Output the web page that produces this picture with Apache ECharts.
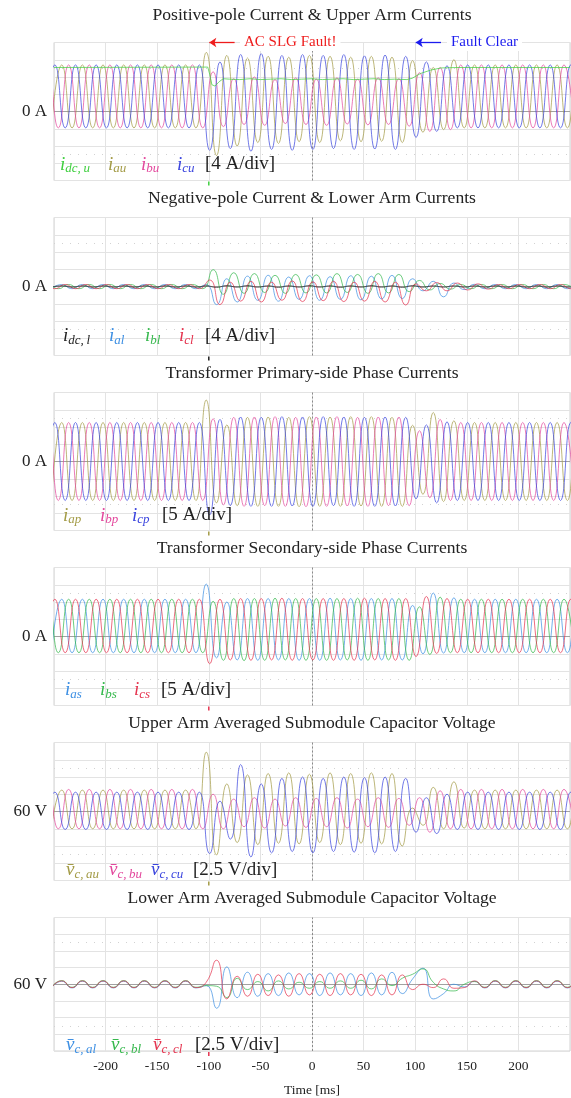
<!DOCTYPE html>
<html>
<head>
<meta charset="utf-8">
<script src="https://cdn.jsdelivr.net/npm/echarts@6/dist/echarts.min.js"></script>
<style>
  html, body { margin: 0; padding: 0; background: #fff; }
  #chart { width: 571px; height: 1098px; }
</style>
</head>
<body>
<div id="chart"></div>
<script>
// ---- Recorded waveforms -------------------------------------------------
// Each phase series is stored as its successive extremes (trough/peak),
// spaced 10 ms apart, starting at the time of the first extreme of that phase.
const startA = -252.5;   // phase a first extreme [ms]
const startB = -265.83;  // phase b first extreme [ms]
const startC = -259.17;  // phase c first extreme [ms]
const halfPeriod = 10;   // ms between extremes (50 Hz)

const xTicks = [-250, -200, -150, -100, -50, 0, 50, 100, 150, 200, 250];

// Positive-pole current & upper arm currents [A]
const idcuTime = [-250,-101,-99,-97,-94,-90,-86,-80,-70,-60,-50,-40,-30,-20,-10,0,10,20,30,40,50,60,70,80,92,97,105,115,125,140,250];
const idcuVal  = [10.2,10.3,8.5,6.2,5.9,6.9,7.6,7.5,7.4,7.6,7.4,7.5,7.6,7.4,7.5,7.6,7.4,7.5,7.6,7.4,7.5,7.6,7.4,7.5,7.4,7.7,8.8,9.6,10.1,10.2,10.2];
const iau = [-3.8,10.8,-3.8,10.8,-3.8,10.8,-3.8,10.8,-3.8,10.8,-3.8,10.8,-3.8,10.8,-3.8,
  13.7,-10.2,13.0,-8.0,12.4,-7.2,12.8,-7.4,12.6,-7.0,13.0,-7.2,12.8,-6.8,12.6,-7.0,12.8,-6.9,12.6,-7.2,11.8,-4.8,10.2,-4.2,12.0,-3.8,
  10.8,-3.8,10.8,-3.8,10.8,-3.8,10.8,-3.8,10.8,-3.8,10.8,-3.8];
const ibu = [-3.8,10.8,-3.8,10.8,-3.8,10.8,-3.8,10.8,-3.8,10.8,-3.8,10.8,-3.8,10.8,-3.8,10.8,-3.8,
  9.2,-3.5,7.6,-3.0,8.0,-3.2,7.4,-2.8,7.8,-3.0,7.5,-3.2,7.8,-2.9,7.5,-3.1,7.8,-3.0,7.6,-3.4,9.0,-4.6,10.2,-4.2,
  10.8,-3.8,10.8,-3.8,10.8,-3.8,10.8,-3.8,10.8,-3.8,10.8,-3.8];
const icu = [-3.8,10.8,-3.8,10.8,-3.8,10.8,-3.8,10.8,-3.8,10.8,-3.8,10.8,-3.8,10.8,-3.8,10.8,
  -9.0,11.5,-8.6,13.2,-9.2,13.4,-8.8,13.0,-9.0,13.2,-8.8,13.0,-8.6,13.2,-8.8,12.9,-8.7,13.1,-8.8,12.8,-6.0,11.5,-4.6,10.6,-3.8,
  10.8,-3.8,10.8,-3.8,10.8,-3.8,10.8,-3.8,10.8,-3.8,10.8,-3.8];

// Negative-pole current & lower arm currents [A]
const idcl = [-0.15,0.15,-0.15,0.15,-0.15,0.15,-0.15,0.15,-0.15,0.15,-0.15,0.15,-0.15,0.15,-0.15,0.15,
  -0.2,0.2,-0.15,0.2,-0.15,0.15,-0.2,0.15,-0.15,0.2,-0.15,0.15,-0.2,0.15,-0.15,0.2,-0.15,0.15,-0.2,0.2,-0.15,0.15,
  -0.15,0.15,-0.15,0.15,-0.15,0.15,-0.15,0.15,-0.15,0.15,-0.15,0.15,-0.15,0.15,-0.15];
const ial = [-0.5,0.45,-0.5,0.45,-0.5,0.45,-0.5,0.45,-0.5,0.45,-0.5,0.45,-0.5,0.45,-0.5,0.45,
  -4.2,1.8,-3.6,2.4,-3.2,2.6,-3.4,2.2,-3.0,2.5,-3.2,2.3,-3.0,2.5,-3.1,2.4,-2.9,2.6,-2.8,1.8,-1.0,1.2,-2.4,0.8,-0.7,0.5,
  -0.5,0.45,-0.5,0.45,-0.5,0.45,-0.5,0.45,-0.5,0.45,-0.5];
const ibl = [-0.5,0.45,-0.5,0.45,-0.5,0.45,-0.5,0.45,-0.5,0.45,-0.5,0.45,-0.5,0.45,-0.5,0.45,-0.5,
  3.9,-1.8,3.2,-1.6,3.0,-1.4,2.6,-1.6,2.8,-1.5,2.7,-1.5,3.0,-1.4,2.8,-1.6,3.0,-1.5,2.8,-1.2,1.4,-0.8,0.7,-0.6,
  0.45,-0.5,0.45,-0.5,0.45,-0.5,0.45,-0.5,0.45,-0.5,0.45,-0.5];
const icl = [0.45,-0.5,0.45,-0.5,0.45,-0.5,0.45,-0.5,0.45,-0.5,0.45,-0.5,0.45,-0.5,0.45,-0.5,
  1.5,-4.2,1.0,-3.4,1.2,-3.6,1.0,-3.2,1.3,-3.5,1.1,-3.3,1.2,-3.5,1.0,-3.4,1.2,-3.6,1.0,-4.3,0.6,-1.0,0.9,-1.0,0.8,-0.8,0.6,-0.6,
  0.45,-0.5,0.45,-0.5,0.45,-0.5,0.45,-0.5,0.45];

// Transformer primary-side phase currents [A]
const iap = [-11.3,11.3,-11.3,11.3,-11.3,11.3,-11.3,11.3,-11.3,11.3,-11.3,11.3,-11.3,11.3,-11.3,
  17.8,-12.0,10.6,-12.8,12.8,-13.0,12.9,-13.0,12.8,-13.1,13.0,-13.0,12.9,-13.0,13.0,-12.9,13.0,-13.0,12.8,-13.0,10.5,-9.5,14.2,-11.6,11.8,-11.3,
  11.3,-11.3,11.3,-11.3,11.3,-11.3,11.3,-11.3,11.3,-11.3,11.3,-11.3];
const ibp = [-11.3,11.3,-11.3,11.3,-11.3,11.3,-11.3,11.3,-11.3,11.3,-11.3,11.3,-11.3,11.3,-11.3,11.3,-11.3,
  12.4,-12.6,12.8,-13.0,12.9,-12.8,13.0,-13.0,12.8,-13.1,12.9,-13.0,13.0,-12.9,12.8,-13.0,12.9,-12.8,12.9,-12.8,8.9,-10.5,12.2,-11.3,
  11.3,-11.3,11.3,-11.3,11.3,-11.3,11.3,-11.3,11.3,-11.3,11.3,-11.3];
const icp = [-11.3,11.3,-11.3,11.3,-11.3,11.3,-11.3,11.3,-11.3,11.3,-11.3,11.3,-11.3,11.3,-11.3,11.3,
  -15.5,12.2,-12.8,12.9,-13.0,12.8,-13.0,13.0,-12.9,12.9,-13.0,13.0,-12.8,12.9,-13.0,12.8,-13.0,12.9,-12.9,12.8,-10.8,10.6,-12.0,11.5,-11.3,
  11.3,-11.3,11.3,-11.3,11.3,-11.3,11.3,-11.3,11.3,-11.3,11.3,-11.3];

// Transformer secondary-side phase currents [A]
const ias = [-4.7,10.8,-4.7,10.8,-4.7,10.8,-4.7,10.8,-4.7,10.8,-4.7,10.8,-4.7,10.8,-4.7,
  15.2,-6.2,10.0,-6.8,11.0,-6.9,11.0,-6.8,11.0,-6.9,11.0,-6.9,11.1,-6.8,11.0,-6.9,11.0,-6.8,11.0,-6.8,9.0,-5.0,12.6,-4.8,11.2,-4.7,
  10.8,-4.7,10.8,-4.7,10.8,-4.7,10.8,-4.7,10.8,-4.7,10.8,-4.7];
const ibs = [-4.7,10.8,-4.7,10.8,-4.7,10.8,-4.7,10.8,-4.7,10.8,-4.7,10.8,-4.7,10.8,-4.7,10.8,-4.7,
  10.2,-6.9,11.0,-7.0,11.0,-6.9,11.1,-6.8,11.0,-6.9,11.0,-6.9,11.0,-6.8,11.1,-6.9,11.0,-6.8,11.0,-6.9,8.6,-5.2,11.4,-4.7,
  10.8,-4.7,10.8,-4.7,10.8,-4.7,10.8,-4.7,10.8,-4.7,10.8,-4.7];
const ics = [-4.7,10.8,-4.7,10.8,-4.7,10.8,-4.7,10.8,-4.7,10.8,-4.7,10.8,-4.7,10.8,-4.7,10.8,
  -7.9,10.8,-6.8,11.0,-6.9,11.0,-6.8,11.1,-6.9,11.0,-6.8,11.0,-6.9,11.0,-6.9,11.1,-6.8,11.0,-6.9,11.0,-5.8,11.6,-4.9,11.0,-4.7,
  10.8,-4.7,10.8,-4.7,10.8,-4.7,10.8,-4.7,10.8,-4.7,10.8,-4.7];

// Upper arm averaged submodule capacitor voltages [V]
const vcau = [57.5,63.1,57.5,63.1,57.5,63.1,57.5,63.1,57.5,63.1,57.5,63.1,57.5,63.1,57.5,
  68.6,53.7,64.0,55.5,65.3,55.2,65.5,55.4,65.6,55.3,65.4,55.5,65.6,55.2,65.5,55.4,65.6,55.3,65.5,55.0,60.5,58.0,63.5,57.5,64.3,57.6,
  63.1,57.5,63.1,57.5,63.1,57.5,63.1,57.5,63.1,57.5,63.1,57.5];
const vcbu = [57.5,63.2,57.5,63.2,57.5,63.2,57.5,63.2,57.5,63.2,57.5,63.2,57.5,63.2,57.5,63.2,57.5,
  62.5,57.5,61.8,57.8,62.0,57.6,61.8,57.9,62.0,57.7,61.9,57.8,62.0,57.6,61.8,57.8,62.0,57.7,61.9,58.0,62.0,57.0,63.0,57.5,
  63.2,57.5,63.2,57.5,63.2,57.5,63.2,57.5,63.2,57.5,63.2,57.5];
const vccu = [57.4,62.8,57.4,62.8,57.4,62.8,57.4,62.8,57.4,62.8,57.4,62.8,57.4,62.8,57.4,62.8,
  53.9,61.5,56.0,66.8,53.4,64.0,54.0,64.8,54.2,65.0,54.0,64.8,54.2,65.0,54.1,64.9,54.0,65.0,54.2,64.8,57.0,62.0,56.8,62.5,57.4,
  62.8,57.4,62.8,57.4,62.8,57.4,62.8,57.4,62.8,57.4,62.8,57.4];

// Lower arm averaged submodule capacitor voltages [V] (all on phase-a timing)
const vcal = [59.45,60.45,59.45,60.45,59.45,60.45,59.45,60.45,59.45,60.45,59.45,60.45,59.45,60.45,59.45,
  59.8,56.4,62.6,58.0,61.8,58.2,61.6,58.3,61.7,58.4,61.6,58.3,61.7,58.4,61.6,58.3,61.7,58.4,61.8,58.6,60.8,62.4,57.8,58.6,60.0,59.6,
  60.45,59.45,60.45,59.45,60.45,59.45,60.45,59.45,60.45,59.45,60.45,59.45];
const vcbl = [59.55,60.55,59.55,60.55,59.55,60.55,59.55,60.55,59.55,60.55,59.55,60.55,59.55,60.55,59.55,
  59.8,59.7,58.0,60.9,59.2,60.4,59.0,60.5,59.3,60.3,59.4,60.4,59.4,60.5,59.4,60.6,59.3,60.8,59.8,60.9,61.5,62.3,60.3,59.3,59.0,60.0,
  60.4,59.55,60.55,59.55,60.55,59.55,60.55,59.55,60.55,59.55,60.55,59.55];
const vccl = [59.5,60.5,59.5,60.5,59.5,60.5,59.5,60.5,59.5,60.5,59.5,60.5,59.5,60.5,59.5,
  60.3,63.6,57.8,61.2,58.2,61.5,58.3,61.4,58.2,61.6,58.4,61.5,58.3,61.6,58.4,61.5,58.3,61.4,58.4,61.4,59.2,60.0,59.5,60.8,59.4,59.5,
  60.5,59.5,60.5,59.5,60.5,59.5,60.5,59.5,60.5,59.5,60.5,59.5];

// Fault event markers on the top panel [ms]
const faultStart = -100;
const faultClear = 100;

// ---- Presentation -------------------------------------------------------
const SERIF = "'Liberation Serif', 'DejaVu Serif', serif";
const C = {
  green: '#3fcf3f', olive: '#a39b46', pink: '#e3489d', blue: '#3b45de',
  black: '#1e1e1e', sky: '#3d8fe3', lgreen: '#35b84c', red: '#e5344f'
};

function wave(t0, vals) { return vals.map((v, i) => [t0 + halfPeriod * i, v]); }
function zip(ts, vs) { return ts.map((t, i) => [t, vs[i]]); }

const GRID_LEFT = 54, GRID_W = 516, GRID_TOP = 42.5, GRID_STEP = 175, GRID_H = 138;
const THIN = '\u2009';

const panels = [
  { title: 'Positive-pole Current & Upper Arm Currents', titleY: 15.5,
    min: -16, max: 16, step: 4, center: 0, unit: '0 A', tick: C.green,
    lines: [
      { data: wave(startA, iau), color: C.olive },
      { data: wave(startB, ibu), color: C.pink },
      { data: wave(startC, icu), color: C.blue },
      { data: zip(idcuTime, idcuVal), color: C.green, smooth: false }
    ],
    legend: [['i', 'dc,' + THIN + 'u', C.green, 60], ['i', 'au', C.olive, 108], ['i', 'bu', C.pink, 141], ['i', 'cu', C.blue, 177]],
    scale: ['[4 A/div]', 205], legendY: 164.5 },
  { title: 'Negative-pole Current & Lower Arm Currents', titleY: 198.5,
    min: -16, max: 16, step: 4, center: 0, unit: '0 A', tick: C.black,
    lines: [
      { data: wave(startA, ial), color: C.sky },
      { data: wave(startB, ibl), color: C.lgreen },
      { data: wave(startC, icl), color: C.red },
      { data: wave(startA, idcl), color: C.black }
    ],
    legend: [['i', 'dc,' + THIN + 'l', C.black, 63], ['i', 'al', C.sky, 109], ['i', 'bl', C.lgreen, 145], ['i', 'cl', C.red, 179]],
    scale: ['[4 A/div]', 205], legendY: 336 },
  { title: 'Transformer Primary-side Phase Currents', titleY: 373.5,
    min: -20, max: 20, step: 5, center: 0, unit: '0 A', tick: C.olive,
    lines: [
      { data: wave(startA, iap), color: C.olive },
      { data: wave(startB, ibp), color: C.pink },
      { data: wave(startC, icp), color: C.blue }
    ],
    legend: [['i', 'ap', C.olive, 63], ['i', 'bp', C.pink, 100], ['i', 'cp', C.blue, 132]],
    scale: ['[5 A/div]', 162], legendY: 515.5 },
  { title: 'Transformer Secondary-side Phase Currents', titleY: 548.5,
    min: -20, max: 20, step: 5, center: 0, unit: '0 A', tick: C.red,
    lines: [
      { data: wave(startA, ias), color: C.sky },
      { data: wave(startB, ibs), color: C.lgreen },
      { data: wave(startC, ics), color: C.red }
    ],
    legend: [['i', 'as', C.sky, 65], ['i', 'bs', C.lgreen, 100], ['i', 'cs', C.red, 134]],
    scale: ['[5 A/div]', 161], legendY: 690 },
  { title: 'Upper Arm Averaged Submodule Capacitor Voltage', titleY: 723.5,
    min: 50, max: 70, step: 2.5, center: 60, unit: '60 V', tick: C.olive,
    lines: [
      { data: wave(startA, vcau), color: C.olive },
      { data: wave(startB, vcbu), color: C.pink },
      { data: wave(startC, vccu), color: C.blue }
    ],
    legend: [['v\u0304', 'c,' + THIN + 'au', C.olive, 66], ['v\u0304', 'c,' + THIN + 'bu', C.pink, 109], ['v\u0304', 'c,' + THIN + 'cu', C.blue, 151]],
    scale: ['[2.5 V/div]', 193], legendY: 870 },
  { title: 'Lower Arm Averaged Submodule Capacitor Voltage', titleY: 898,
    min: 50, max: 70, step: 2.5, center: 60, unit: '60 V', tick: C.red,
    lines: [
      { data: wave(startA, vcal), color: C.sky },
      { data: wave(startA, vcbl), color: C.lgreen },
      { data: wave(startA, vccl), color: C.red }
    ],
    legend: [['v\u0304', 'c,' + THIN + 'al', C.sky, 66], ['v\u0304', 'c,' + THIN + 'bl', C.lgreen, 111], ['v\u0304', 'c,' + THIN + 'cl', C.red, 153]],
    scale: ['[2.5 V/div]', 195], legendY: 1045 }
];

const grid = [], xAxis = [], yAxis = [], series = [], graphic = [];
const last = panels.length - 1;

panels.forEach((p, k) => {
  grid.push({ left: GRID_LEFT, width: GRID_W, top: GRID_TOP + GRID_STEP * k, height: GRID_H,
    show: true, borderColor: '#d2d2d2', borderWidth: 1, backgroundColor: 'transparent' });
  xAxis.push({
    gridIndex: k, type: 'value', min: xTicks[0], max: xTicks[xTicks.length - 1], interval: 50,
    axisLine: { show: false }, axisTick: { show: false },
    splitLine: { show: true, lineStyle: { color: '#e3e3e3', width: 1 } },
    axisLabel: { show: k === last, fontFamily: SERIF, fontSize: 13.5, color: '#222', margin: 8,
      showMinLabel: false, showMaxLabel: false, formatter: v => String(v) },
    name: k === last ? 'Time [ms]' : '', nameLocation: 'middle', nameGap: 32,
    nameTextStyle: { fontFamily: SERIF, fontSize: 13.5, color: '#222' }
  });
  yAxis.push({
    gridIndex: k, type: 'value', min: p.min, max: p.max, interval: p.step,
    axisLine: { show: false }, axisTick: { show: false },
    splitLine: { show: true, lineStyle: { color: '#e3e3e3', width: 1 } },
    axisLabel: { fontFamily: SERIF, fontSize: 17, color: '#222', margin: 7,
      formatter: v => (Math.abs(v - p.center) < 1e-6 ? p.unit : '') }
  });

  const quarter = p.step * 2.5;
  p.lines.forEach((ln, j) => {
    const s = {
      type: 'line', xAxisIndex: k, yAxisIndex: k, data: ln.data,
      showSymbol: false, symbol: 'none', smooth: ln.smooth === false ? false : 0.55,
      lineStyle: { color: ln.color, width: 0.8, opacity: 0.9 },
      itemStyle: { color: ln.color }, silent: true, clip: true, z: 3 + j
    };
    if (j === 0) {
      s.markLine = {
        silent: true, symbol: 'none', label: { show: false }, animation: false, z: 1,
        data: [
          { xAxis: 0, lineStyle: { color: '#8a8a8a', type: [2, 2], width: 1 } },
          { yAxis: p.center, lineStyle: { color: '#9a9a9a', type: 'solid', width: 0.9 } },
          { yAxis: p.center + quarter, lineStyle: { color: '#d2d2d2', type: [1, 7], width: 1 } },
          { yAxis: p.center - quarter, lineStyle: { color: '#d2d2d2', type: [1, 7], width: 1 } }
        ]
      };
      s.markPoint = {
        silent: true, animation: false, label: { show: false },
        data: [{ coord: [faultStart, p.min], symbol: 'rect', symbolSize: [1.5, 4], symbolOffset: [0, 3],
          itemStyle: { color: p.tick } }]
      };
    }
    series.push(s);
  });

  // panel title
  graphic.push({ type: 'text', x: GRID_LEFT + GRID_W / 2, y: p.titleY, z: 10,
    style: { text: p.title, font: `17.6px ${SERIF}`, fill: '#222', align: 'center', verticalAlign: 'middle' } });

  // in-plot legend with subscripted symbols
  p.legend.forEach(([sym, sub, col, x]) => {
    graphic.push({ type: 'text', x: x, y: p.legendY, z: 10,
      style: {
        text: `{m|${sym}}{s|${sub}}`, align: 'left', verticalAlign: 'middle',
        rich: {
          m: { fontFamily: SERIF, fontStyle: 'italic', fontSize: 19, fill: col, color: col, lineHeight: 22, verticalAlign: 'middle' },
          s: { fontFamily: SERIF, fontStyle: 'italic', fontSize: 13, fill: col, color: col, lineHeight: 12, verticalAlign: 'bottom' }
        }
      } });
  });
  graphic.push({ type: 'text', x: p.scale[1], y: p.legendY, z: 10,
    style: { text: p.scale[0], font: `19px ${SERIF}`, fill: '#222', align: 'left', verticalAlign: 'middle' } });
});

// fault-start / fault-clear arrows along the top edge of the first panel
series.push({
  type: 'line', xAxisIndex: 0, yAxisIndex: 0, data: [], silent: true, z: 15,
  markLine: {
    silent: true, animation: false, label: { show: false }, symbol: ['none', 'arrow'], symbolSize: 7,
    data: [
      [{ coord: [faultStart + 25, 16], lineStyle: { color: '#ee1c1c', width: 1.3, type: 'solid' } }, { coord: [faultStart + 0.5, 16] }],
      [{ coord: [faultClear + 25, 16], lineStyle: { color: '#1c1cee', width: 1.3, type: 'solid' } }, { coord: [faultClear + 0.5, 16] }]
    ]
  }
});

graphic.push(
  { type: 'text', x: 240, y: GRID_TOP, z: 20,
    style: { text: 'AC SLG Fault!', font: `15px ${SERIF}`, fill: '#ee1c1c', align: 'left', verticalAlign: 'middle',
      backgroundColor: '#fff', padding: [1, 4, 1, 4] } },
  { type: 'text', x: 447, y: GRID_TOP, z: 20,
    style: { text: 'Fault Clear', font: `15px ${SERIF}`, fill: '#1c1cee', align: 'left', verticalAlign: 'middle',
      backgroundColor: '#fff', padding: [1, 4, 1, 4] } }
);

const chart = echarts.init(document.getElementById('chart'), null, { renderer: 'canvas' });
chart.setOption({ animation: false, backgroundColor: '#fff', grid, xAxis, yAxis, series, graphic });
</script>
</body>
</html>
